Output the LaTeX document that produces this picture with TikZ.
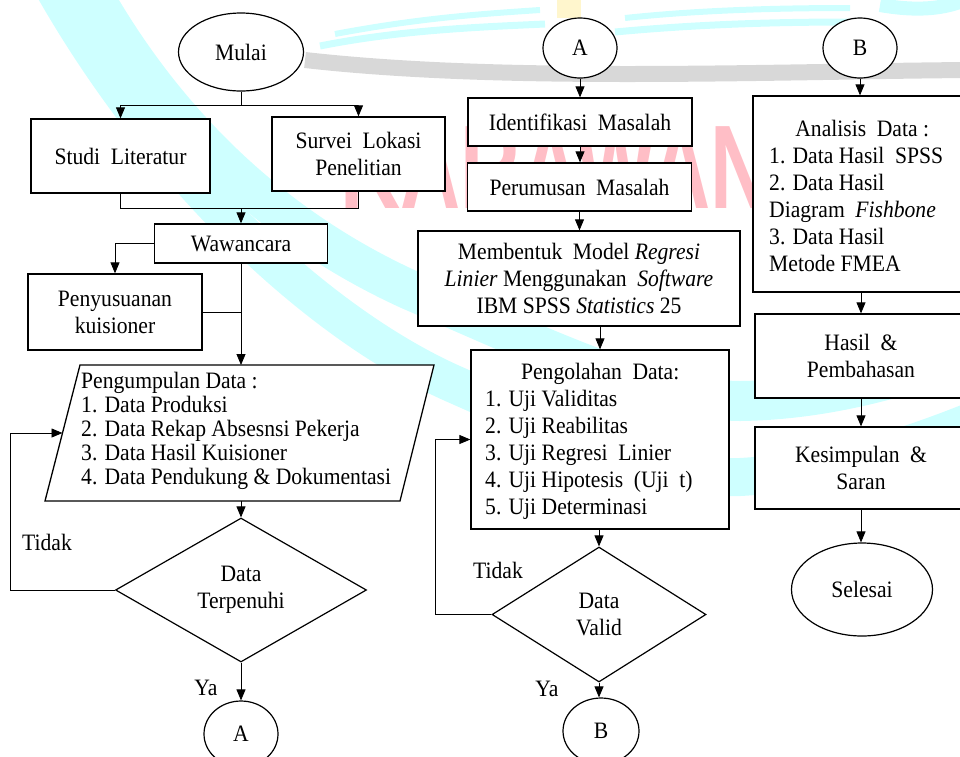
\documentclass[tikz,border=0pt]{standalone}
\usepackage{fontspec}
\setmainfont[FakeStretch=0.92]{Liberation Serif}
\newfontfamily\wmfont{Liberation Sans}
\usetikzlibrary{shapes.geometric,arrows.meta}
\definecolor{wmcyan}{RGB}{206,255,255}
\definecolor{wmgray}{RGB}{216,216,216}
\definecolor{wmpink}{RGB}{255,190,198}
\definecolor{wmyellow}{RGB}{255,246,205}
\newcommand\dtxt{\fontsize{23.5}{27}\selectfont}
\newcommand\pgtxt{\fontsize{23.5}{24}\selectfont}
\newcommand\dsp{\hspace{0.45em}}
\tikzset{
  box/.style={draw, line width=1.3pt, fill=white, inner sep=0pt, align=center, font=\dtxt},
  term/.style={draw, ellipse, line width=1.2pt, fill=white, inner sep=0pt, align=center, font=\dtxt},
  dec/.style={draw, diamond, line width=1.2pt, fill=white, inner sep=0pt, align=center, font=\dtxt, shape aspect=1.7},
  conn/.style={line width=0.8pt},
  arr/.style={conn, -{Triangle[width=9pt,length=11pt]}},
  lbl/.style={font=\dtxt, inner sep=0pt},
  band/.style={wmcyan, line cap=butt}
}
\begin{document}
\begin{tikzpicture}[x=1pt,y=-1pt]
\useasboundingbox (0,0) rectangle (960,756);
\clip (0,0) rectangle (960,756);
% ---------- watermark (background) ----------
\draw[band, line width=40pt] (90,-10) .. controls (180,150) and (300,240) .. (410,290)
   .. controls (550,350) and (650,400) .. (740,401) .. controls (820,400) and (900,380) .. (975,350);
\draw[band, line width=38pt] (55,-10) .. controls (170,190) and (330,330) .. (456,385)
   .. controls (580,440) and (680,480) .. (740,477) .. controls (830,472) and (900,450) .. (975,420);
\draw[band, line width=7pt] (320,46) .. controls (400,30) and (480,27) .. (545,24);
\draw[band, line width=6pt] (335,34) .. controls (420,18) and (480,14) .. (540,10);
\draw[band, line width=7pt] (615,32) .. controls (700,24) and (780,22) .. (850,22);
\draw[band, line width=6pt] (625,18) .. controls (700,10) and (780,8) .. (850,8);
\draw[band, line width=14pt] (880,5) .. controls (920,12) and (945,8) .. (965,0);
\draw[wmgray, line width=16pt] (305,60) .. controls (500,82) and (750,72) .. (965,70);
\fill[wmyellow] (557,0) rectangle (581,18);
\node[text=wmpink, font=\wmfont\bfseries\fontsize{119}{119}\selectfont, inner sep=0pt] (wm) at (588,168) {\scalebox{0.70}[1]{KARAWANG}};
% ---------- column 1 ----------
\node[term, minimum width=125pt, minimum height=78pt] (mulai) at (241,52) {Mulai};
\node[box, minimum width=179pt, minimum height=74pt] (studi) at (120.5,156) {Studi\dsp Literatur};
\node[box, minimum width=173pt, minimum height=74pt] (survei) at (358.5,154) {Survei\dsp Lokasi\\Penelitian};
\node[box, minimum width=173pt, minimum height=39pt] (waw) at (241,243.5) {Wawancara};
\node[box, minimum width=174pt, minimum height=76pt] (peny) at (115,312) {Penyusuanan\\kuisioner};
\coordinate (pgA) at (80,365);
\coordinate (pgB) at (434,365);
\coordinate (pgC) at (400,501);
\coordinate (pgD) at (45,501);
\coordinate (pgtop) at (241,365);
\coordinate (pgbot) at (241,501);
\coordinate (pgleft) at (62.5,433);
\draw[line width=1.3pt, fill=white] (pgA) -- (pgB) -- (pgC) -- (pgD) -- cycle;
\node[lbl, font=\pgtxt, align=left, anchor=west] (pgtext) at (81,431) {Pengumpulan Data :\\1. Data Produksi\\2. Data Rekap Absesnsi Pekerja\\3. Data Hasil Kuisioner\\4. Data Pendukung \& Dokumentasi};
\node[dec, minimum width=251pt, minimum height=144pt] (d1) at (241,590) {Data\\Terpenuhi};
\node[term, minimum width=74pt, minimum height=66pt] (a2) at (241,734) {A};
\node[lbl] (tidak1) at (47,542) {Tidak};
\node[lbl] (ya1) at (206,688) {Ya};
% ---------- column 2 ----------
\node[term, minimum width=74pt, minimum height=60pt] (a1) at (580,48) {A};
\node[box, minimum width=224pt, minimum height=48pt] (ident) at (580,122) {Identifikasi\dsp Masalah};
\node[box, minimum width=224pt, minimum height=48pt] (perum) at (579.5,187) {Perumusan\dsp Masalah};
\node[box, minimum width=322pt, minimum height=95pt] (memb) at (579,278.5) {Membentuk\dsp Model \textit{Regresi}\\\textit{Linier} Menggunakan\dsp\textit{Software}\\IBM SPSS \textit{Statistics} 25};
\node[box, minimum width=258pt, minimum height=179pt] (pengo) at (600,439.5) {};
\node[lbl, align=left, anchor=west] (pengotext) at (485,441) {\makebox[230pt][c]{Pengolahan\dsp Data:}\\1. Uji Validitas\\2. Uji Reabilitas\\3. Uji Regresi\dsp Linier\\4. Uji Hipotesis\dsp (Uji\dsp t)\\5. Uji Determinasi};
\node[dec, minimum width=214pt, minimum height=135pt] (d2) at (599,614.5) {Data\\Valid};
\node[term, minimum width=76pt, minimum height=66pt] (b2) at (601,731) {B};
\node[lbl] (tidak2) at (498,570) {Tidak};
\node[lbl] (ya2) at (547,689) {Ya};
% ---------- column 3 ----------
\node[term, minimum width=74pt, minimum height=60pt] (b1) at (860,48) {B};
\node[box, minimum width=216pt, minimum height=196pt] (anal) at (861,194) {};
\node[lbl, align=left, anchor=west] (analtext) at (769,196) {\makebox[186pt][c]{Analisis\dsp Data :}\\1. Data Hasil\dsp SPSS\\2. Data Hasil\\Diagram\dsp\textit{Fishbone}\\3. Data Hasil\\Metode FMEA};
\node[box, minimum width=212pt, minimum height=84pt] (hasil) at (861,356) {Hasil\dsp\&\\Pembahasan};
\node[box, minimum width=212pt, minimum height=82pt] (kesim) at (861,468) {Kesimpulan\dsp\&\\Saran};
\node[term, minimum width=141pt, minimum height=93pt] (selesai) at (862,589.5) {Selesai};
% ---------- connectors column 1 ----------
\draw[conn] (mulai.south) -- ++(0,14) coordinate (msplit);
\draw[arr] (msplit) -| (studi.north);
\draw[arr] (msplit) -| (survei.north);
\coordinate (join1) at (241,208);
\draw[conn] (studi.south) |- (join1);
\draw[conn] (survei.south) |- (join1);
\draw[arr] (join1) -- (waw.north);
\draw[arr] (waw.west) -| (peny.north);
\draw[arr] (waw.south) -- (pgtop);
\draw[conn] (peny.east) -- (peny.east -| waw.south);
\draw[arr] (pgbot) -- (d1.north);
\draw[arr] (d1.south) -- (a2.north);
\draw[arr] (d1.west) -- ++(-105,0) |- (pgleft);
% ---------- connectors column 2 ----------
\draw[arr] (a1.south) -- (ident.north);
\draw[arr] (ident.south) -- (ident.south |- perum.north);
\draw[arr] (perum.south) -- (perum.south |- memb.north);
\draw[arr] (pengo.north |- memb.south) -- (pengo.north);
\draw[arr] (d2.north |- pengo.south) -- (d2.north);
\draw[arr] (d2.south) -- (d2.south |- b2.north);
\draw[arr] (d2.west) -- ++(-56,0) |- (pengo.west);
% ---------- connectors column 3 ----------
\draw[arr] (b1.south) -- (b1.south |- anal.north);
\draw[arr] (anal.south) -- (hasil.north);
\draw[arr] (hasil.south) -- (kesim.north);
\draw[arr] (kesim.south) -- (kesim.south |- selesai.north);
\end{tikzpicture}
\end{document}
